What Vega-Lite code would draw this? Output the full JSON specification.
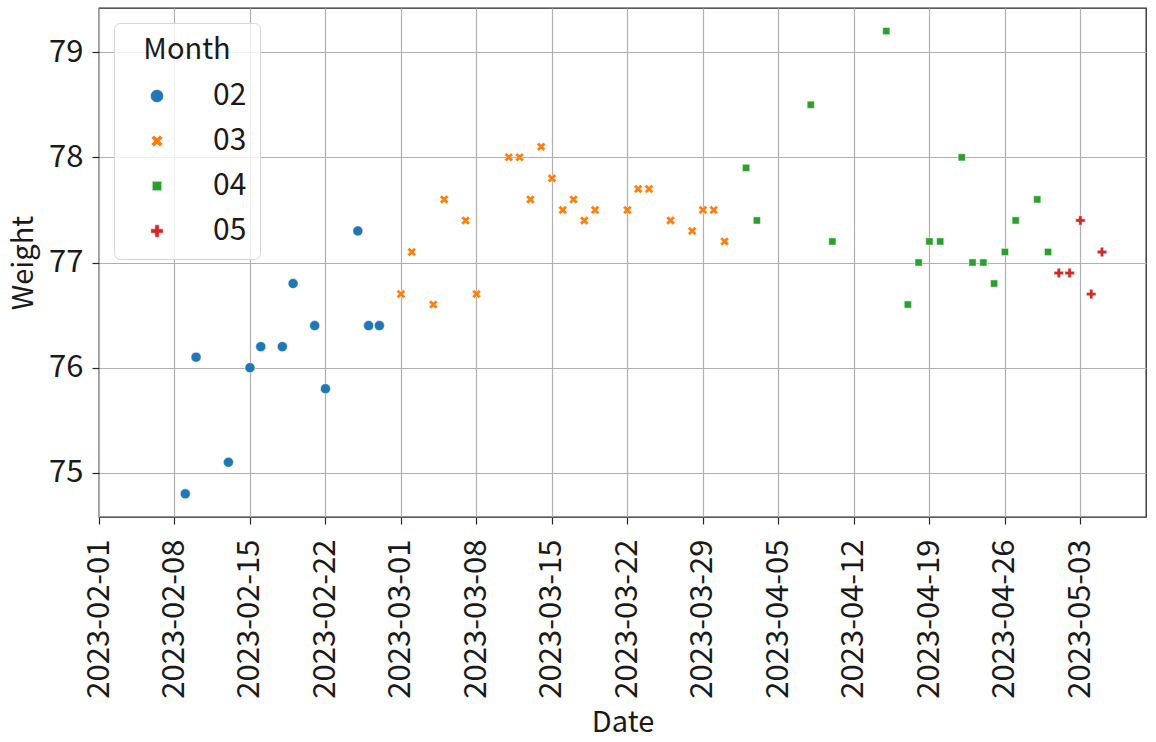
{
  "$schema": "https://vega.github.io/schema/vega-lite/v6.json",
  "width": 1047,
  "height": 509,
  "autosize": {"type": "none"},
  "padding": {"left": 99, "top": 8, "right": 10, "bottom": 225},
  "background": "white",
  "config": {
    "font": "Noto Sans CJK JP",
    "view": {"stroke": "#262626", "strokeWidth": 1.3},
    "axis": {
      "labelFont": "Noto Sans CJK JP",
      "titleFont": "Noto Sans CJK JP",
      "labelFontSize": 31,
      "titleFontSize": 29,
      "titleFontWeight": "normal",
      "labelColor": "#1a1a1a",
      "titleColor": "#1a1a1a",
      "gridColor": "#b0b0b0",
      "gridWidth": 1.2,
      "tickColor": "#262626",
      "tickSize": 7,
      "tickWidth": 1.2,
      "domain": false,
      "zindex": 1
    },
    "legend": {
      "titleFont": "Noto Sans CJK JP",
      "labelFont": "Noto Sans CJK JP"
    }
  },
  "data": {
    "values": [
      {"Date": "2023-02-09", "Weight": 74.8, "Month": "02"},
      {"Date": "2023-02-10", "Weight": 76.1, "Month": "02"},
      {"Date": "2023-02-13", "Weight": 75.1, "Month": "02"},
      {"Date": "2023-02-15", "Weight": 76.0, "Month": "02"},
      {"Date": "2023-02-16", "Weight": 76.2, "Month": "02"},
      {"Date": "2023-02-18", "Weight": 76.2, "Month": "02"},
      {"Date": "2023-02-19", "Weight": 76.8, "Month": "02"},
      {"Date": "2023-02-21", "Weight": 76.4, "Month": "02"},
      {"Date": "2023-02-22", "Weight": 75.8, "Month": "02"},
      {"Date": "2023-02-25", "Weight": 77.3, "Month": "02"},
      {"Date": "2023-02-26", "Weight": 76.4, "Month": "02"},
      {"Date": "2023-02-27", "Weight": 76.4, "Month": "02"},
      {"Date": "2023-03-01", "Weight": 76.7, "Month": "03"},
      {"Date": "2023-03-02", "Weight": 77.1, "Month": "03"},
      {"Date": "2023-03-04", "Weight": 76.6, "Month": "03"},
      {"Date": "2023-03-05", "Weight": 77.6, "Month": "03"},
      {"Date": "2023-03-07", "Weight": 77.4, "Month": "03"},
      {"Date": "2023-03-08", "Weight": 76.7, "Month": "03"},
      {"Date": "2023-03-11", "Weight": 78.0, "Month": "03"},
      {"Date": "2023-03-12", "Weight": 78.0, "Month": "03"},
      {"Date": "2023-03-13", "Weight": 77.6, "Month": "03"},
      {"Date": "2023-03-14", "Weight": 78.1, "Month": "03"},
      {"Date": "2023-03-15", "Weight": 77.8, "Month": "03"},
      {"Date": "2023-03-16", "Weight": 77.5, "Month": "03"},
      {"Date": "2023-03-17", "Weight": 77.6, "Month": "03"},
      {"Date": "2023-03-18", "Weight": 77.4, "Month": "03"},
      {"Date": "2023-03-19", "Weight": 77.5, "Month": "03"},
      {"Date": "2023-03-22", "Weight": 77.5, "Month": "03"},
      {"Date": "2023-03-23", "Weight": 77.7, "Month": "03"},
      {"Date": "2023-03-24", "Weight": 77.7, "Month": "03"},
      {"Date": "2023-03-26", "Weight": 77.4, "Month": "03"},
      {"Date": "2023-03-28", "Weight": 77.3, "Month": "03"},
      {"Date": "2023-03-29", "Weight": 77.5, "Month": "03"},
      {"Date": "2023-03-30", "Weight": 77.5, "Month": "03"},
      {"Date": "2023-03-31", "Weight": 77.2, "Month": "03"},
      {"Date": "2023-04-02", "Weight": 77.9, "Month": "04"},
      {"Date": "2023-04-03", "Weight": 77.4, "Month": "04"},
      {"Date": "2023-04-08", "Weight": 78.5, "Month": "04"},
      {"Date": "2023-04-10", "Weight": 77.2, "Month": "04"},
      {"Date": "2023-04-15", "Weight": 79.2, "Month": "04"},
      {"Date": "2023-04-17", "Weight": 76.6, "Month": "04"},
      {"Date": "2023-04-18", "Weight": 77.0, "Month": "04"},
      {"Date": "2023-04-19", "Weight": 77.2, "Month": "04"},
      {"Date": "2023-04-20", "Weight": 77.2, "Month": "04"},
      {"Date": "2023-04-22", "Weight": 78.0, "Month": "04"},
      {"Date": "2023-04-23", "Weight": 77.0, "Month": "04"},
      {"Date": "2023-04-24", "Weight": 77.0, "Month": "04"},
      {"Date": "2023-04-25", "Weight": 76.8, "Month": "04"},
      {"Date": "2023-04-26", "Weight": 77.1, "Month": "04"},
      {"Date": "2023-04-27", "Weight": 77.4, "Month": "04"},
      {"Date": "2023-04-29", "Weight": 77.6, "Month": "04"},
      {"Date": "2023-04-30", "Weight": 77.1, "Month": "04"},
      {"Date": "2023-05-01", "Weight": 76.9, "Month": "05"},
      {"Date": "2023-05-02", "Weight": 76.9, "Month": "05"},
      {"Date": "2023-05-03", "Weight": 77.4, "Month": "05"},
      {"Date": "2023-05-04", "Weight": 76.7, "Month": "05"},
      {"Date": "2023-05-05", "Weight": 77.1, "Month": "05"}
    ]
  },
  "mark": {
    "type": "point",
    "filled": true,
    "opacity": 1,
    "size": 100,
    "stroke": "white",
    "strokeWidth": 0.5
  },
  "encoding": {
    "x": {
      "field": "Date",
      "type": "temporal",
      "title": "Date",
      "scale": {
        "type": "utc",
        "nice": false,
        "domain": [
          {"year": 2023, "month": 2, "date": 1, "utc": true},
          {"year": 2023, "month": 5, "date": 9, "hours": 2, "utc": true}
        ]
      },
      "axis": {
        "values": [
          {"year": 2023, "month": 2, "date": 1, "utc": true},
          {"year": 2023, "month": 2, "date": 8, "utc": true},
          {"year": 2023, "month": 2, "date": 15, "utc": true},
          {"year": 2023, "month": 2, "date": 22, "utc": true},
          {"year": 2023, "month": 3, "date": 1, "utc": true},
          {"year": 2023, "month": 3, "date": 8, "utc": true},
          {"year": 2023, "month": 3, "date": 15, "utc": true},
          {"year": 2023, "month": 3, "date": 22, "utc": true},
          {"year": 2023, "month": 3, "date": 29, "utc": true},
          {"year": 2023, "month": 4, "date": 5, "utc": true},
          {"year": 2023, "month": 4, "date": 12, "utc": true},
          {"year": 2023, "month": 4, "date": 19, "utc": true},
          {"year": 2023, "month": 4, "date": 26, "utc": true},
          {"year": 2023, "month": 5, "date": 3, "utc": true}
        ],
        "labelExpr": "utcFormat(datum.value, '%Y-%m-%d')",
        "labelAngle": 270,
        "labelPadding": 15,
        "titlePadding": 10,
        "labelFlush": false,
        "labelOverlap": false
      }
    },
    "y": {
      "field": "Weight",
      "type": "quantitative",
      "title": "Weight",
      "scale": {"domain": [74.58, 79.42], "nice": false, "zero": false},
      "axis": {
        "values": [75, 76, 77, 78, 79],
        "labelPadding": 9,
        "titlePadding": 10
      }
    },
    "color": {
      "field": "Month",
      "type": "nominal",
      "scale": {
        "domain": ["02", "03", "04", "05"],
        "range": ["#1f77b4", "#ff7f0e", "#2ca02c", "#d62728"]
      },
      "legend": {
        "title": "Month",
        "orient": "none",
        "legendX": 15,
        "legendY": 15,
        "padding": 13,
        "titleFontSize": 29,
        "titleFontWeight": "normal",
        "titleColor": "#1a1a1a",
        "titleAnchor": "middle",
        "titlePadding": 16,
        "labelFontSize": 30,
        "labelColor": "#1a1a1a",
        "labelOffset": 41,
        "symbolOffset": 15,
        "symbolSize": 170,
        "symbolStrokeColor": "white",
        "symbolStrokeWidth": 0.5,
        "rowPadding": 15,
        "fillColor": "rgba(255,255,255,0.8)",
        "strokeColor": "#d6d6d6",
        "cornerRadius": 6
      }
    },
    "shape": {
      "field": "Month",
      "type": "nominal",
      "scale": {
        "domain": ["02", "03", "04", "05"],
        "range": [
          "circle",
          "M-0.9,-0.45L-0.45,-0.9L0,-0.45L0.45,-0.9L0.9,-0.45L0.45,0L0.9,0.45L0.45,0.9L0,0.45L-0.45,0.9L-0.9,0.45L-0.45,0Z",
          "M-0.72,-0.72H0.72V0.72H-0.72Z",
          "M-0.33,-0.95H0.33V-0.33H0.95V0.33H0.33V0.95H-0.33V0.33H-0.95V-0.33H-0.33Z"
        ]
      }
    }
  }
}
